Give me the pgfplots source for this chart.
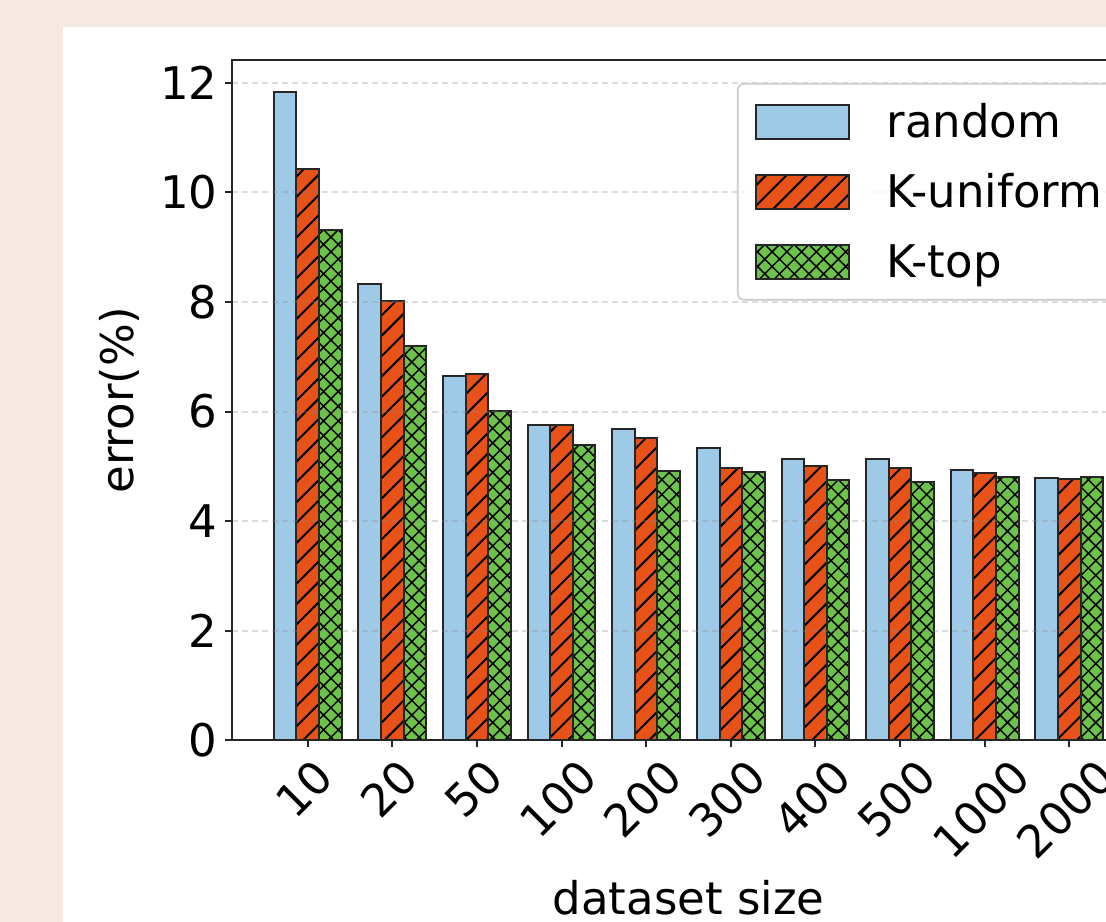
\documentclass[border=0pt]{standalone}
\usepackage{pgfplots}
\pgfplotsset{compat=1.18}
\usepackage{fontspec}
\setmainfont{DejaVu Sans}
\usepackage{graphicx}
\usetikzlibrary{patterns.meta}
\definecolor{bgbeige}{RGB}{245,233,225}
\definecolor{cblue}{RGB}{158,202,232}
\definecolor{corange}{RGB}{230,82,24}
\definecolor{cgreen}{RGB}{108,194,74}
\newcommand{\tl}[1]{\rotatebox{45}{\rule[-5.3pt]{0pt}{21.8pt}#1}}
\pgfplotsset{
  mylegend/.style={legend image code/.code={\draw[##1, sharp corners, fill opacity=1, draw opacity=1] (0pt,-0.5pt) rectangle (46.5pt,16.5pt);}},
  barbase/.style={ybar, bar width=0.2667, draw=black!85, line width=1pt, mylegend},
}
\begin{document}
\fontsize{22.5}{27}\selectfont
\begin{tikzpicture}
\useasboundingbox (-116pt,-90.5pt) rectangle (437pt,370pt);
\clip (-116pt,-90.5pt) rectangle (437pt,370pt);
\fill[bgbeige] (-117pt,-91pt) rectangle (438pt,371pt);
\fill[white] (-84.5pt,-92pt) rectangle (439pt,356.5pt);
\begin{axis}[
  at={(0pt,0pt)}, anchor=south west,
  scale only axis, width=456.5pt, height=340pt,
  xmin=-0.895, xmax=9.895, ymin=0, ymax=12.42,
  axis on top,
  axis line style={black!85, line width=1pt},
  tick pos=left, tick align=outside, major tick length=3.5pt,
  tick style={black!85, line width=1pt},
  xtick={0,1,2,3,4,5,6,7,8,9},
  xticklabels={\tl{10},\tl{20},\tl{50},\tl{100},\tl{200},\tl{300},\tl{400},\tl{500},\tl{1000},\tl{2000}},
  xticklabel style={anchor=north, inner sep=0pt, yshift=-4.5pt},
  ytick={0,2,4,6,8,10,12},
  yticklabel style={anchor=east, inner sep=0pt, xshift=-3.5pt},
  /pgf/number format/assume math mode=true,
  ymajorgrids,
  grid style={black!45, opacity=0.3, line width=1pt, dash pattern=on 3.2pt off 1.8pt},
  every axis x label/.style={at={(axis description cs:0.5,-0.257)}, anchor=base, inner sep=0pt},
  every axis y label/.style={at={(axis description cs:-0.1008,0.5)}, rotate=90, anchor=south, inner sep=0pt},
  xlabel={dataset size},
  ylabel={error(\%)},
  legend cell align=left,
  legend style={at={(axis description cs:0.5531,0.9662)}, anchor=north west,
    draw=black!20, line width=0.8pt, rounded corners=3pt, fill=white, fill opacity=0.8, text opacity=1,
    inner xsep=8.5pt, inner ysep=10pt, row sep=17pt,
    nodes={inner sep=0pt, text height=16.5pt, text depth=0.5pt, anchor=base west},
    /tikz/every odd column/.append style={column sep=18.5pt}},
]
\addplot[barbase, bar shift=-0.2667, fill=cblue] coordinates {
(0,11.83) (1,8.33) (2,6.64) (3,5.75) (4,5.68) (5,5.33) (6,5.14) (7,5.13) (8,4.94) (9,4.78)};
\addlegendentry{random}
\addplot[barbase, bar shift=0, fill=corange, pattern color=black,
  postaction={pattern={Lines[angle=45,distance=7.2pt,line width=1pt]}, pattern color=black}] coordinates {
(0,10.43) (1,8.01) (2,6.68) (3,5.75) (4,5.52) (5,4.96) (6,5.00) (7,4.97) (8,4.88) (9,4.76)};
\addlegendentry{K-uniform}
\addplot[barbase, bar shift=0.2667, fill=cgreen, pattern color=black,
  postaction={pattern={Hatch[angle=45,distance=5.2pt,line width=0.75pt]}, pattern color=black}] coordinates {
(0,9.32) (1,7.20) (2,6.01) (3,5.39) (4,4.91) (5,4.89) (6,4.74) (7,4.72) (8,4.80) (9,4.80)};
\addlegendentry{K-top}
\end{axis}
\end{tikzpicture}
\end{document}
